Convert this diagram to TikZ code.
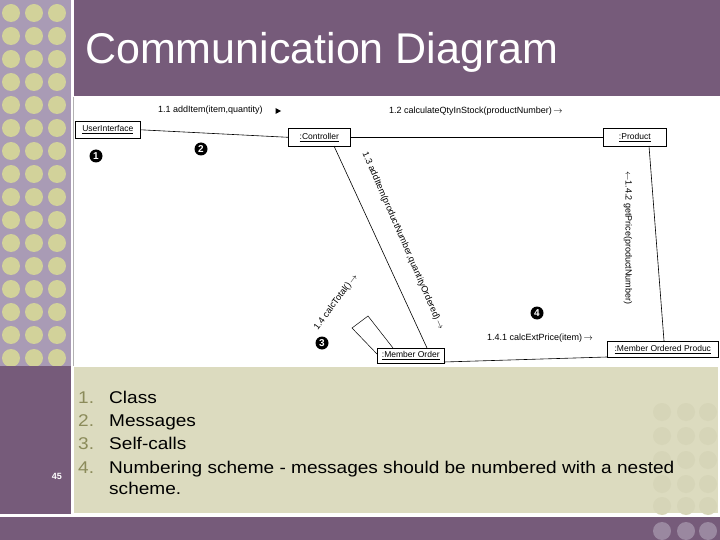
\documentclass[tikz,border=0pt]{standalone}
\usepackage{fontspec}
\setmainfont{Liberation Sans}
\usetikzlibrary{arrows.meta}
\definecolor{hdr}{HTML}{765B7A}
\definecolor{strip}{HTML}{A99BB5}
\definecolor{dotc}{HTML}{D2D29A}
\definecolor{beige}{HTML}{DCDBBF}
\definecolor{numc}{HTML}{8B8B5A}
\definecolor{bdot}{HTML}{9A88A0}
\definecolor{fdot}{HTML}{D6D5B8}
\tikzset{
  obj/.style={draw, line width=0.6pt, fill=white, inner sep=1.5pt, minimum height=16pt, font=\fontsize{8.5}{9}\selectfont},
  lnk/.style={line width=0.6pt},
  msg/.style={font=\fontsize{9}{10}\selectfont, inner sep=0pt},
  bullet/.style={circle, fill=black, text=white, inner sep=0pt, minimum size=13pt, font=\bfseries\fontsize{10}{10}\selectfont},
  item/.style={anchor=base west, font=\fontsize{17}{18}\selectfont, inner sep=0pt, xscale=1.12},
  inum/.style={anchor=base west, font=\fontsize{17}{18}\selectfont, text=numc, inner sep=0pt, xscale=1.12}
}
\begin{document}
\begin{tikzpicture}[x=1pt,y=-1pt]
\useasboundingbox (0,0) rectangle (720,540);
\fill[white] (0,0) rectangle (720,540);
% left strip
\fill[strip] (0,0) rectangle (71,366);
\foreach \yy in {13,36,59,82,105,128,151,174,197,220,243,266,289,312,335,358}{
  \foreach \xx in {11,34,57}{ \fill[dotc] (\xx,\yy) circle (9); }
}
\fill[hdr] (0,366) rectangle (71,514);
% header
\fill[hdr] (74,0) rectangle (720,96);
\node[anchor=west, text=white, font=\fontsize{43}{45}\selectfont, inner sep=0pt] (title) at (85,52) {Communication Diagram};
% beige
\fill[beige] (74,367) rectangle (718,513);
\foreach \yy in {412,436,460,484,506}{
  \foreach \xx in {662,686,708}{ \fill[fdot] (\xx,\yy) circle (9); }
}
\fill[hdr] (0,517) rectangle (720,540);
\foreach \xx in {662,686,708}{ \fill[bdot] (\xx,531) circle (9); }
\fill[hdr] (640,540) rectangle (720,545);
\draw[gray!60, line width=0.5pt] (73.5,97) -- (73.5,366);
\node[text=white, font=\bfseries\fontsize{9}{10}\selectfont] (pg) at (57,476) {45};
% objects
\node[obj, anchor=north west, minimum width=65pt, minimum height=17pt] (ui) at (75,121) {\underline{UserInterface}};
\node[obj, anchor=north west, minimum width=62pt, minimum height=18pt] (ctl) at (288,128) {\underline{:Controller}};
\node[obj, anchor=north west, minimum width=63pt, minimum height=18pt] (prd) at (603,128) {\underline{:Product}};
\node[obj, anchor=north west, minimum width=67pt, minimum height=15pt] (mo) at (377,348) {\underline{:Member Order}};
\node[obj, anchor=north west, minimum width=111pt, minimum height=16pt, inner sep=0.5pt] (mop) at (607,341) {\underline{:Member Ordered Produc}};
% links
\draw[lnk] (ui.east) -- (ctl.west);
\draw[lnk] (ctl.east) -- (prd.west);
\coordinate (c1) at (334,146); \coordinate (m1) at (427,348);
\draw[lnk] (c1) -- (m1);
\coordinate (p1) at (649,146); \coordinate (q1) at (664,341);
\draw[lnk] (p1) -- (q1);
\coordinate (m2) at (444,362); \coordinate (q2) at (607,357);
\draw[lnk] (m2) -- (q2);
\coordinate (s1) at (393,348); \coordinate (s2) at (368,316); \coordinate (s3) at (352,328); \coordinate (s4) at (377,354);
\draw[line width=0.5pt] (s1) -- (s2) -- (s3) -- (s4);
% messages
\node[msg, anchor=west] (m11) at (158,110) {1.1 addItem(item,quantity)};
\coordinate (tri) at (278,111);
\fill ([xshift=-2.5pt,yshift=-3pt]tri) -- ([xshift=-2.5pt,yshift=3pt]tri) -- ([xshift=3pt]tri) -- cycle;
\node[msg, anchor=west] (m12) at (389,111) {1.2 calculateQtyInStock(productNumber)\,$\rightarrow$};
\node[msg, rotate=-66.5] (m13) at (403,241) {1.3 addItem(productNumber,quantityOrdered)\,$\rightarrow$};
\node[msg, rotate=53] (m14) at (336,302) {1.4 calcTotal()\,$\rightarrow$};
\node[msg, anchor=west] (m141) at (487,338) {1.4.1 calcExtPrice(item)\,$\rightarrow$};
\node[msg, rotate=-90] (m142) at (628,238) {$\leftarrow$1.4.2 getPrice(productNumber)};
% bullets
\node[bullet] (b1) at (96,156) {1};
\node[bullet] (b2) at (201,149) {2};
\node[bullet] (b3) at (322,343) {3};
\node[bullet] (b4) at (537,313) {4};
% list
\node[inum] (n1) at (78,403) {1.}; \node[item] (t1) at (109,403) {Class};
\node[inum] (n2) at (78,426) {2.}; \node[item] (t2) at (109,426) {Messages};
\node[inum] (n3) at (78,449) {3.}; \node[item] (t3) at (109,449) {Self-calls};
\node[inum] (n4) at (78,473) {4.}; \node[item] (t4) at (109,473) {Numbering scheme - messages should be numbered with a nested};
\node[item] (t5) at (109,494) {scheme.};
\end{tikzpicture}
\end{document}
